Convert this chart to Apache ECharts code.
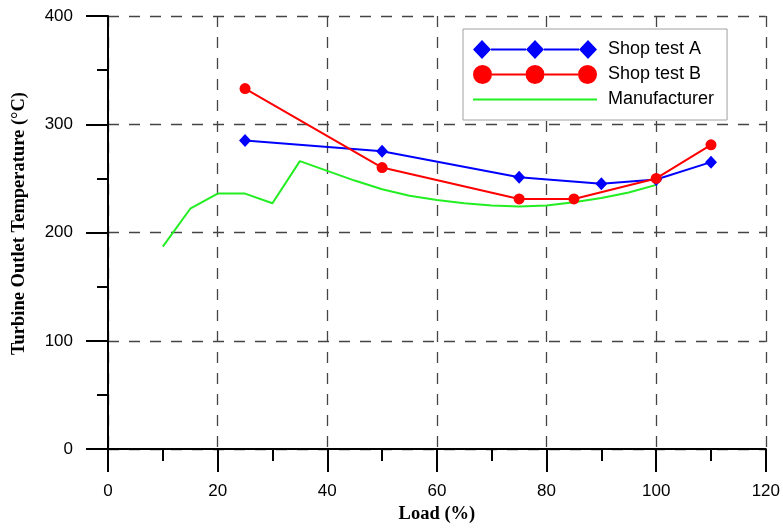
<!DOCTYPE html>
<html>
<head>
<meta charset="utf-8">
<script src="https://cdn.jsdelivr.net/npm/echarts@6/dist/echarts.min.js"></script>
<style>
html,body{margin:0;padding:0;background:#fff;}
#chart{width:783px;height:529px;}
</style>
</head>
<body>
<div id="chart"></div>
<script>
const loadA = [25, 50, 75, 90, 100, 110];
const tempA = [285, 275, 251, 245, 249, 265];
const loadB = [25, 50, 75, 85, 100, 110];
const tempB = [333, 260, 231, 231, 250, 281];
const loadM = [10, 15, 20, 25, 30, 35, 40, 45, 50, 55, 60, 65, 70, 75, 80, 85, 90, 95, 100];
const tempM = [187, 222, 236, 236, 227, 266, 257, 248, 240, 234, 230, 227, 225, 224, 225, 228, 232, 237, 244];
const seriesNames = ['Shop test A', 'Shop test B', 'Manufacturer'];

const pair = (xs, ys) => xs.map((x, i) => [x, ys[i]]);

const diamondIcon = 'path://M0 9.5L9 0L18 9.5L9 19Z M53 9.5L62 0L71 9.5L62 19Z M106 9.5L115 0L124 9.5L115 19Z M18 8.5L53 8.5L53 10.5L18 10.5Z M71 8.5L106 8.5L106 10.5L71 10.5Z';
const circleIcon = 'path://M0 9.5A9.5 9.5 0 1 1 19 9.5A9.5 9.5 0 1 1 0 9.5Z M52.5 9.5A9.5 9.5 0 1 1 71.5 9.5A9.5 9.5 0 1 1 52.5 9.5Z M105 9.5A9.5 9.5 0 1 1 124 9.5A9.5 9.5 0 1 1 105 9.5Z M19 8.5L52.5 8.5L52.5 10.5L19 10.5Z M71.5 8.5L105 8.5L105 10.5L71.5 10.5Z';
const lineIcon = 'path://M0 0L124 0L124 2L0 2Z';

const chart = echarts.init(document.getElementById('chart'), null, {renderer: 'canvas'});
const gridLine = {show: true, lineStyle: {color: '#444', width: 1.3, type: [11, 10]}};
chart.setOption({
  animation: false,
  backgroundColor: '#fff',
  grid: {left: 108, right: 15, top: 16, bottom: 74},
  legend: {
    orient: 'vertical',
    left: 463, top: 29,
    padding: [11, 13, 11, 10],
    itemGap: 6,
    itemWidth: 124, itemHeight: 19,
    symbolKeepAspect: true,
    backgroundColor: '#fff',
    borderColor: '#a0a0a0', borderWidth: 1,
    itemStyle: {borderWidth: 0},
    textStyle: {fontFamily: 'Liberation Sans, Arial, sans-serif', fontSize: 18, color: '#000', padding: [0, 0, 0, 6], lineHeight: 19},
    data: [
      {name: seriesNames[0], icon: diamondIcon},
      {name: seriesNames[1], icon: circleIcon},
      {name: seriesNames[2], icon: lineIcon}
    ]
  },
  xAxis: {
    type: 'value', min: 0, max: 120, interval: 20,
    name: 'Load (%)', nameLocation: 'middle', nameGap: 49,
    nameTextStyle: {fontFamily: 'Liberation Serif, Times New Roman, serif', fontWeight: 'bold', fontSize: 18.5, color: '#000'},
    axisLine: {show: true, onZero: false, lineStyle: {color: '#000', width: 2}},
    axisTick: {show: true, length: 23, lineStyle: {color: '#000', width: 2}},
    minorTick: {show: true, splitNumber: 2, length: 12, lineStyle: {color: '#000', width: 2}},
    axisLabel: {margin: 34, fontFamily: 'Liberation Sans, Arial, sans-serif', fontSize: 17, color: '#000'},
    splitLine: gridLine
  },
  yAxis: {
    type: 'value', min: 0, max: 400, interval: 100,
    name: 'Turbine Outlet Temperature (°C)', nameLocation: 'middle', nameGap: 79, nameRotate: 90,
    nameTextStyle: {fontFamily: 'Liberation Serif, Times New Roman, serif', fontWeight: 'bold', fontSize: 18.5, color: '#000', padding: [0, 0, 0, 18]},
    axisLine: {show: true, onZero: false, lineStyle: {color: '#000', width: 2}},
    axisTick: {show: true, length: 22, lineStyle: {color: '#000', width: 2}},
    minorTick: {show: true, splitNumber: 2, length: 11, lineStyle: {color: '#000', width: 2}},
    axisLabel: {margin: 35, fontFamily: 'Liberation Sans, Arial, sans-serif', fontSize: 17, color: '#000'},
    splitLine: gridLine
  },
  series: [
    {
      name: seriesNames[0], type: 'line', data: pair(loadA, tempA),
      symbol: 'diamond', symbolSize: [12, 13],
      lineStyle: {color: '#0000ff', width: 2}, itemStyle: {color: '#0000ff', borderWidth: 0}, z: 3
    },
    {
      name: seriesNames[1], type: 'line', data: pair(loadB, tempB),
      symbol: 'circle', symbolSize: 11,
      lineStyle: {color: '#ff0000', width: 2}, itemStyle: {color: '#ff0000', borderWidth: 0}, z: 4
    },
    {
      name: seriesNames[2], type: 'line', data: pair(loadM, tempM),
      symbol: 'none', showSymbol: false,
      lineStyle: {color: '#22ee22', width: 2}, itemStyle: {color: '#22ee22'}, z: 2
    }
  ]
});
</script>
</body>
</html>
